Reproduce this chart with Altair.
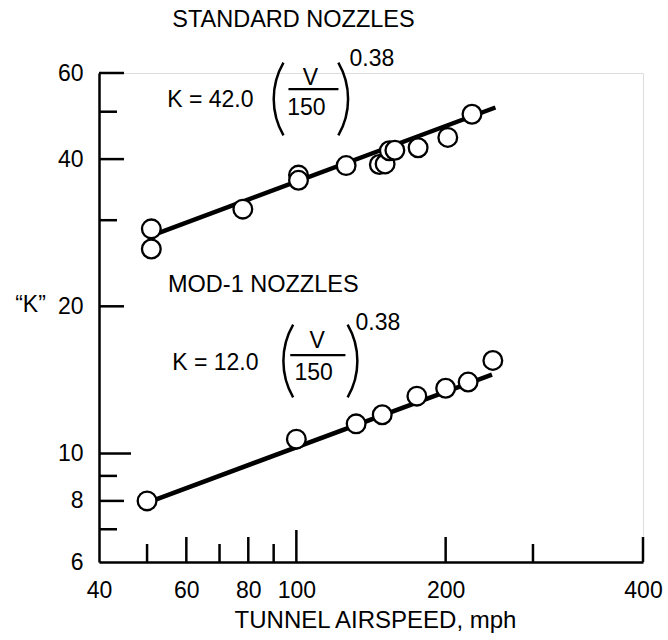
import altair as alt
import pandas as pd

# ---- data ----
std_speed = [51, 51, 78, 101, 101, 126, 147, 151, 154, 158, 176, 202, 226]
std_k = [28.8, 26.2, 31.6, 37.1, 36.2, 38.8, 39.0, 39.1, 41.6, 41.7, 42.2, 44.3, 49.4]
mod_speed = [50, 100, 132, 149, 175, 200, 222, 249]
mod_k = [8.0, 10.7, 11.5, 12.0, 13.1, 13.6, 14.0, 15.5]

std_fit_speed = [52, 252]
std_fit_k = [28.1, 51.0]
mod_fit_speed = [52, 248]
mod_fit_k = [8.05, 14.5]

# axis ticks / labels
x_label_values = [40, 60, 80, 100, 200, 500]
x_label_texts = ["40", "60", "80", "100", "200", "400"]
y_label_values = [6, 8, 10, 20, 40, 60]
x_ticks_short = [50, 70, 90, 300]
x_ticks_mid = [60, 80, 200, 500]
x_ticks_long = [100]
y_ticks_short = [7, 9, 30, 50]
y_ticks_mid = [8, 20, 40, 60]
y_ticks_long = [10]

# annotations (in data coordinates)
title_texts = ["STANDARD NOZZLES", "MOD-1 NOZZLES"]
title_speed = [56.2, 55.1]
title_k = [77.0, 22.1]
left_texts = ["K = 42.0", "K = 12.0", "0.38", "0.38"]
left_text_speed = [54.9, 56.2, 128.0, 131.6]
left_text_k = [52.8, 15.3, 64.1, 18.5]
center_texts = ["V", "150", "V", "150"]
center_text_speed = [106.8, 104.8, 110.1, 108.4]
center_text_k = [58.6, 50.9, 17.0, 14.64]
frac_speed = [96.4, 97.2]
frac_speed2 = [121.6, 125.6]
frac_k = [55.6, 15.9]
lparen_speed = [126.2, 132.0]
rparen_speed = [90.7, 94.7]
paren_k = [53.1, 15.46]

FONT = "Liberation Sans"
W, H = 544, 489

xs = alt.Scale(type="log", domain=[40, 500], nice=False)
ys = alt.Scale(type="log", domain=[6, 60], nice=False)

label_expr = " : ".join(
    [f"datum.value == {v} ? '{t}'" for v, t in zip(x_label_values, x_label_texts)]
) + " : datum.label"

x_axis = alt.Axis(
    values=x_label_values, labelExpr=label_expr, ticks=False, tickSize=0, grid=False,
    domainColor="black", domainWidth=2.5, labelFont=FONT, labelFontSize=23,
    labelColor="black", labelPadding=28, labelBaseline="middle", labelFlush=False,
    labelOverlap=False, title="TUNNEL AIRSPEED, mph", titleFont=FONT, titleFontSize=24,
    titleFontWeight="normal", titleColor="black", titleX=276, titleY=58,
    titleBaseline="middle", titleAlign="center",
)
y_axis = alt.Axis(
    values=y_label_values, ticks=False, tickSize=0, grid=False,
    domainColor="black", domainWidth=2.5, labelFont=FONT, labelFontSize=23,
    labelColor="black", labelPadding=16, labelFlush=False, labelOverlap=False,
    title="\u201cK\u201d", titleFont=FONT, titleFontSize=23, titleFontWeight="normal",
    titleColor="black", titleAngle=0, titleX=-69, titleY=231,
    titleBaseline="middle", titleAlign="center",
)


def X(field="v"):
    return alt.X(f"{field}:Q", scale=xs, axis=x_axis)


def Y(field="k"):
    return alt.Y(f"{field}:Q", scale=ys, axis=y_axis)


fit = pd.DataFrame({
    "v": std_fit_speed + mod_fit_speed,
    "k": std_fit_k + mod_fit_k,
    "series": ["std"] * len(std_fit_speed) + ["mod"] * len(mod_fit_speed),
})
pts = pd.DataFrame({"v": std_speed + mod_speed, "k": std_k + mod_k})

lines = alt.Chart(fit).mark_line(color="black", strokeWidth=4.5).encode(
    x=X(), y=Y(), detail="series:N",
)
points = alt.Chart(pts).mark_circle(
    fill="white", stroke="black", strokeWidth=2.3, size=350, opacity=1
).encode(x=X(), y=Y())

tick_len = {"short": 18, "mid": 25, "long": 32}


def xticks(vals, kind):
    return alt.Chart(pd.DataFrame({"v": vals})).mark_rule(
        color="black", strokeWidth=2.5
    ).encode(x=X(), y=alt.value(H), y2=alt.value(H - tick_len[kind]))


def yticks(vals, kind):
    return alt.Chart(pd.DataFrame({"k": vals})).mark_rule(
        color="black", strokeWidth=2.5
    ).encode(y=Y(), x=alt.value(0), x2=alt.value(tick_len[kind]))


tick_layers = [
    xticks(x_ticks_short, "short"), xticks(x_ticks_mid, "mid"), xticks(x_ticks_long, "long"),
    yticks(y_ticks_short, "short"), yticks(y_ticks_mid, "mid"), yticks(y_ticks_long, "long"),
]

ttext = alt.Chart(pd.DataFrame({"t": title_texts, "v": title_speed, "k": title_k})).mark_text(
    font=FONT, fontSize=23.5, align="left", baseline="middle", color="black"
).encode(x=X(), y=Y(), text="t:N")
ltext = alt.Chart(pd.DataFrame({"t": left_texts, "v": left_text_speed, "k": left_text_k})).mark_text(
    font=FONT, fontSize=23, align="left", baseline="middle", color="black"
).encode(x=X(), y=Y(), text="t:N")
ctext = alt.Chart(pd.DataFrame({"t": center_texts, "v": center_text_speed, "k": center_text_k})).mark_text(
    font=FONT, fontSize=23, align="center", baseline="middle", color="black"
).encode(x=X(), y=Y(), text="t:N")
fracs = alt.Chart(pd.DataFrame({"v": frac_speed, "v2": frac_speed2, "k": frac_k})).mark_rule(
    color="black", strokeWidth=2.2
).encode(x=X(), x2="v2:Q", y=Y())
lparen = alt.Chart(pd.DataFrame({"v": lparen_speed, "k": paren_k})).mark_arc(
    radius=74, radius2=71.5, theta=4.189, theta2=5.236, color="black"
).encode(x=X(), y=Y())
rparen = alt.Chart(pd.DataFrame({"v": rparen_speed, "k": paren_k})).mark_arc(
    radius=74, radius2=71.5, theta=1.047, theta2=2.094, color="black"
).encode(x=X(), y=Y())

chart = alt.layer(
    lines, points, *tick_layers, ttext, ltext, ctext, fracs, lparen, rparen
).properties(
    width=W, height=H,
    autosize=alt.AutoSizeParams(type="none"),
    padding={"left": 99, "top": 73, "right": 25, "bottom": 78},
).configure_view(stroke="transparent").configure(font=FONT, background="white")

chart.save("out.html", embed_options={"renderer": "svg", "actions": False})
